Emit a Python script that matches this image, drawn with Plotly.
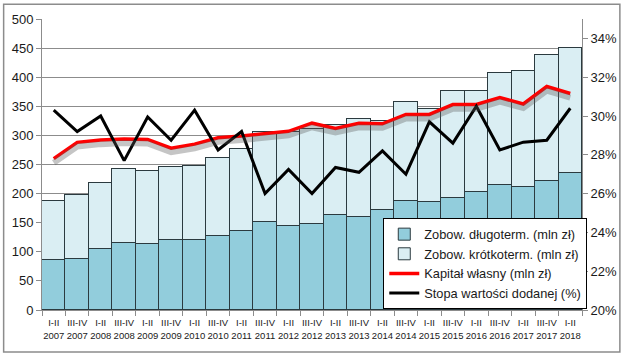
import plotly.graph_objects as go

periods = ["I-II", "III-IV"] * 11 + ["I-II"]
years = [str(y) for y in range(2007, 2018) for _ in (0, 1)] + ["2018"]
categories = [f"{p}<br>{y}" for p, y in zip(periods, years)]

long_term = [86, 88, 104, 115, 114, 120, 121, 127, 135, 151, 144, 147, 163, 159, 171, 188, 185, 193, 202, 214, 212, 222, 236]
short_term = [102, 110, 114, 128, 124, 126, 126, 134, 141, 154, 161, 164, 155, 169, 153, 170, 161, 183, 175, 193, 198, 217, 215]
equity = [260, 288, 292, 294, 293, 278, 285, 296, 299, 303, 307, 321, 312, 321, 320, 336, 336, 353, 353, 365, 354, 384, 372]
value_added_rate = [30.3, 29.2, 30.0, 27.7, 29.95, 28.75, 30.3, 28.25, 29.2, 26.0, 27.25, 26.0, 27.35, 27.1, 28.2, 27.0, 29.7, 28.6, 30.5, 28.25, 28.65, 28.75, 30.4]

FONT = "Liberation Sans"
TXT = "#1a1a1a"
GRID = "#8c8c8c"

fig = go.Figure()
fig.add_trace(go.Bar(x=categories, y=long_term, name="Zobow. długoterm. (mln zł)",
                     marker=dict(color="#92CDDC", line=dict(color="#2b3a3f", width=1))))
fig.add_trace(go.Bar(x=categories, y=short_term, name="Zobow. krótkoterm. (mln zł)",
                     marker=dict(color="#DAEEF3", line=dict(color="#2b3a3f", width=1))))
# soft shadow under the red line
fig.add_trace(go.Scatter(x=categories, y=equity, yaxis="y3", mode="lines", showlegend=False,
                         hoverinfo="skip", line=dict(color="rgba(90,90,90,0.35)", width=6)))
fig.add_trace(go.Scatter(x=categories, y=equity, name="Kapitał własny (mln zł)", mode="lines",
                         line=dict(color="#FF0000", width=3.5)))
fig.add_trace(go.Scatter(x=categories, y=value_added_rate, name="Stopa wartości dodanej (%)",
                         yaxis="y2", mode="lines", line=dict(color="#000000", width=3)))

fig.update_layout(
    width=629, height=354,
    margin=dict(l=40, r=40, t=16, b=44),
    paper_bgcolor="white", plot_bgcolor="white",
    barmode="stack", bargap=0,
    font=dict(family=FONT, color=TXT, size=13),
    showlegend=True,
    legend=dict(x=0.632, y=0.315, xanchor="left", yanchor="top", traceorder="normal",
                bgcolor="white", bordercolor="#000000", borderwidth=1,
                font=dict(size=12.8, family=FONT, color=TXT), tracegroupgap=0,
                itemwidth=30),
    xaxis=dict(type="category", tickson="boundaries", ticks="outside", ticklen=5,
               tickcolor=GRID, showline=True, linecolor=GRID, tickangle=0,
               ticklabelstandoff=4,
               tickfont=dict(size=9.5, family=FONT, color=TXT), showgrid=False),
    yaxis=dict(range=[0, 500], dtick=50, showgrid=True, gridcolor=GRID, gridwidth=1,
               showline=True, linecolor=GRID, ticks="outside", ticklen=5, tickcolor=GRID,
               tickfont=dict(size=13, family=FONT, color=TXT), zeroline=False),
    yaxis2=dict(range=[20, 35], dtick=2, tick0=20, overlaying="y", side="right",
                showgrid=False, showline=True, linecolor=GRID, ticks="outside", ticklen=5,
                tickcolor=GRID, ticksuffix="%", tickfont=dict(size=13, family=FONT, color=TXT),
                zeroline=False),
    yaxis3=dict(range=[7, 507], overlaying="y", visible=False),
    shapes=[dict(type="rect", xref="paper", yref="paper",
                 x0=(1 - 40) / 549, x1=(627.5 - 40) / 549,
                 y0=(310 - 352.5) / 294, y1=(310 - 1) / 294,
                 line=dict(color="#8c8c8c", width=1.5), fillcolor="rgba(0,0,0,0)", layer="below")],
)

fig.write_html("out.html")
